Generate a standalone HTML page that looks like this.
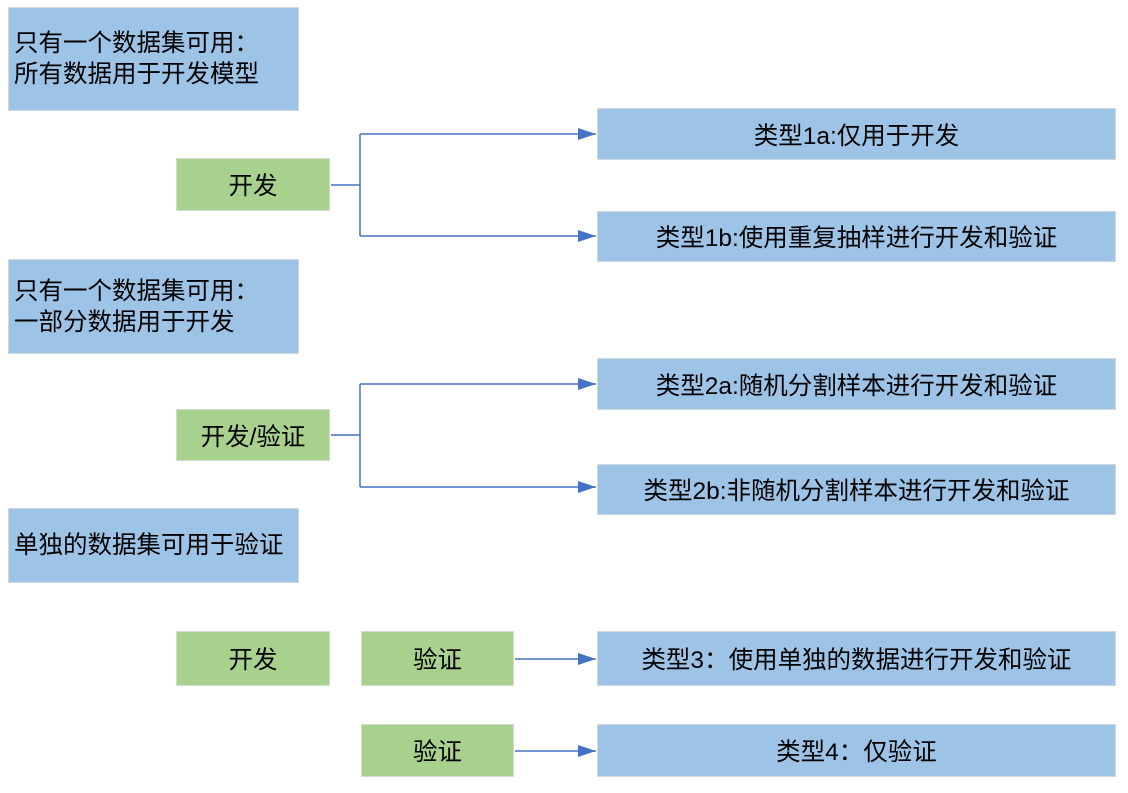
<!DOCTYPE html>
<html><head><meta charset="utf-8"><style>
body{margin:0;width:1128px;height:793px;background:#fff;position:relative;font-family:"Liberation Sans","Noto Sans CJK SC",sans-serif;overflow:hidden}
.b{position:absolute;box-sizing:border-box;display:flex;align-items:center;justify-content:center;font-size:24.5px;color:#000;border:1px solid #d0d8e0;white-space:nowrap}
.bl{background:#9DC3E6}.g{background:#A9D18E;border-color:#d4dccf}
.l{justify-content:flex-start;padding-left:5px;line-height:31px;text-align:left}
svg{position:absolute;left:0;top:0}
</style></head><body>
<div class="b bl l" style="left:8px;top:7px;width:291px;height:104px">只有一个数据集可用：<br>所有数据用于开发模型</div>
<div class="b g" style="left:176px;top:158px;width:154px;height:53px">开发</div>
<div class="b bl" style="left:597px;top:108px;width:519px;height:52px">类型1a:仅用于开发</div>
<div class="b bl" style="left:597px;top:211px;width:519px;height:51px">类型1b:使用重复抽样进行开发和验证</div>
<div class="b bl l" style="left:8px;top:259px;width:291px;height:95px">只有一个数据集可用：<br>一部分数据用于开发</div>
<div class="b g" style="left:176px;top:409px;width:154px;height:52px">开发/验证</div>
<div class="b bl" style="left:597px;top:358px;width:519px;height:52px">类型2a:随机分割样本进行开发和验证</div>
<div class="b bl" style="left:597px;top:464px;width:519px;height:51px">类型2b:非随机分割样本进行开发和验证</div>
<div class="b bl l" style="left:8px;top:508px;width:291px;height:75px">单独的数据集可用于验证</div>
<div class="b g" style="left:176px;top:631px;width:154px;height:55px">开发</div>
<div class="b g" style="left:361px;top:631px;width:153px;height:55px">验证</div>
<div class="b bl" style="left:597px;top:631px;width:519px;height:55px">类型3：使用单独的数据进行开发和验证</div>
<div class="b g" style="left:361px;top:724px;width:153px;height:53px">验证</div>
<div class="b bl" style="left:597px;top:724px;width:519px;height:53px">类型4：仅验证</div>
<svg width="1128" height="793">
<defs><marker id="a" markerWidth="18" markerHeight="12" refX="18" refY="6" orient="auto" markerUnits="userSpaceOnUse"><path d="M0,0L18,6L0,12z" fill="#4472C4"/></marker></defs>
<g stroke="#4472C4" stroke-width="1.5" fill="none">
<path d="M331,185H360"/><path d="M360,134V236"/>
<path d="M360,134H596" marker-end="url(#a)"/><path d="M360,236H596" marker-end="url(#a)"/>
<path d="M331,435H360"/><path d="M360,384V487"/>
<path d="M360,384H596" marker-end="url(#a)"/><path d="M360,487H596" marker-end="url(#a)"/>
<path d="M515,659H596" marker-end="url(#a)"/>
<path d="M515,751H596" marker-end="url(#a)"/>
</g></svg>
</body></html>
